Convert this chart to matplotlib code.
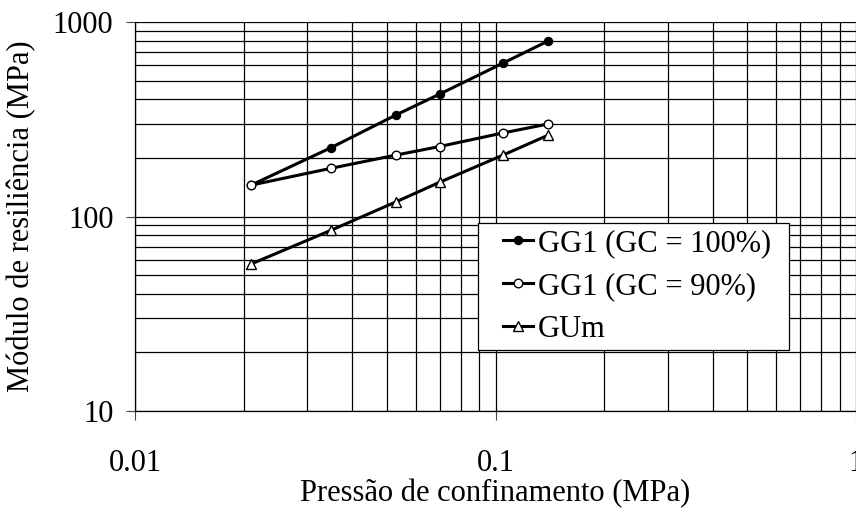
import matplotlib
matplotlib.use("Agg")
import matplotlib.pyplot as plt
from matplotlib.lines import Line2D
from matplotlib.legend_handler import HandlerLine2D
from matplotlib.ticker import LogLocator, NullFormatter, FixedLocator, FixedFormatter

plt.rcParams['font.family'] = ['Liberation Serif', 'DejaVu Serif']

pressure = [0.021, 0.035, 0.053, 0.070, 0.105, 0.140]
gg1_100 = [145, 226, 333, 426, 615, 799]
gg1_90 = [145, 177, 207, 229, 269, 299]
gum = [57, 85, 119, 150, 207, 262]
labels = ["GG1 (GC = 100%)", "GG1 (GC = 90%)", "GUm"]
xticks = [0.01, 0.1, 1]
xticklabels = ["0.01", "0.1", "1"]
yticks = [10, 100, 1000]
yticklabels = ["10", "100", "1000"]

W, H = 856, 520
L, R, T, B = 135, 856, 22, 411
fig = plt.figure(figsize=(W/100, H/100), dpi=100)
ax = fig.add_axes([L/W, 1-B/H, (R-L)/W, (B-T)/H])
ax.set_xscale('log')
ax.set_yscale('log')
ax.set_xlim(0.01, 1)
ax.set_ylim(10, 1000)

fs = 22
lw = 2.2
ax.plot(pressure, gg1_100, color='black', lw=lw, marker='o', ms=5.8,
        mfc='black', mec='black', mew=1, label=labels[0], zorder=5)
ax.plot(pressure, gg1_90, color='black', lw=lw, marker='o', ms=6.2,
        mfc='white', mec='black', mew=1, label=labels[1], zorder=5)
ax.plot(pressure, gum, color='black', lw=lw, marker='^', ms=6.5,
        mfc='white', mec='black', mew=1, label=labels[2], zorder=5)

ax.xaxis.set_major_locator(FixedLocator(xticks))
ax.xaxis.set_major_formatter(FixedFormatter(xticklabels))
ax.yaxis.set_major_locator(FixedLocator(yticks))
ax.yaxis.set_major_formatter(FixedFormatter(yticklabels))
ax.xaxis.set_minor_locator(LogLocator(base=10, subs=range(2, 10)))
ax.yaxis.set_minor_locator(LogLocator(base=10, subs=range(2, 10)))
ax.xaxis.set_minor_formatter(NullFormatter())
ax.yaxis.set_minor_formatter(NullFormatter())

ax.grid(True, which='both', color='black', lw=0.9)
ax.set_axisbelow(True)
ax.tick_params(which='major', direction='out', length=6.5, width=0.8, color='#444444', labelsize=fs)
ax.tick_params(which='minor', length=0)
ax.tick_params(axis='x', which='major', pad=21)
ax.tick_params(axis='y', which='major', pad=9)
for s in ax.spines.values():
    s.set_color('black')
    s.set_linewidth(0.9)
ax.spines['top'].set_visible(False)
ax.spines['right'].set_visible(False)

ax.set_xlabel("Pressão de confinamento (MPa)", fontsize=fs)
ax.xaxis.set_label_coords(0.5, -(479 - B)/(B - T))
ax.set_ylabel("Módulo de resiliência (MPa)", fontsize=fs, labelpad=12)

em = fs * 100/72
lx0, lx1, ly0, ly1 = 478, 789, 223, 348
leg = ax.legend(loc='upper left',
                bbox_to_anchor=((lx0-L)/(R-L), (B-ly1)/(B-T), (lx1-lx0)/(R-L), (ly1-ly0)/(B-T)),
                mode='expand', borderaxespad=0, fontsize=fs, frameon=True, fancybox=False,
                handlelength=(19+30)/em, handletextpad=5/em, labelspacing=0.45,
                borderpad=0.2, framealpha=1,
                handler_map={Line2D: HandlerLine2D(xpad=19/em)})
leg.get_frame().set_edgecolor('black')
leg.get_frame().set_linewidth(0.9)

fig.savefig("out.png", dpi=100)
